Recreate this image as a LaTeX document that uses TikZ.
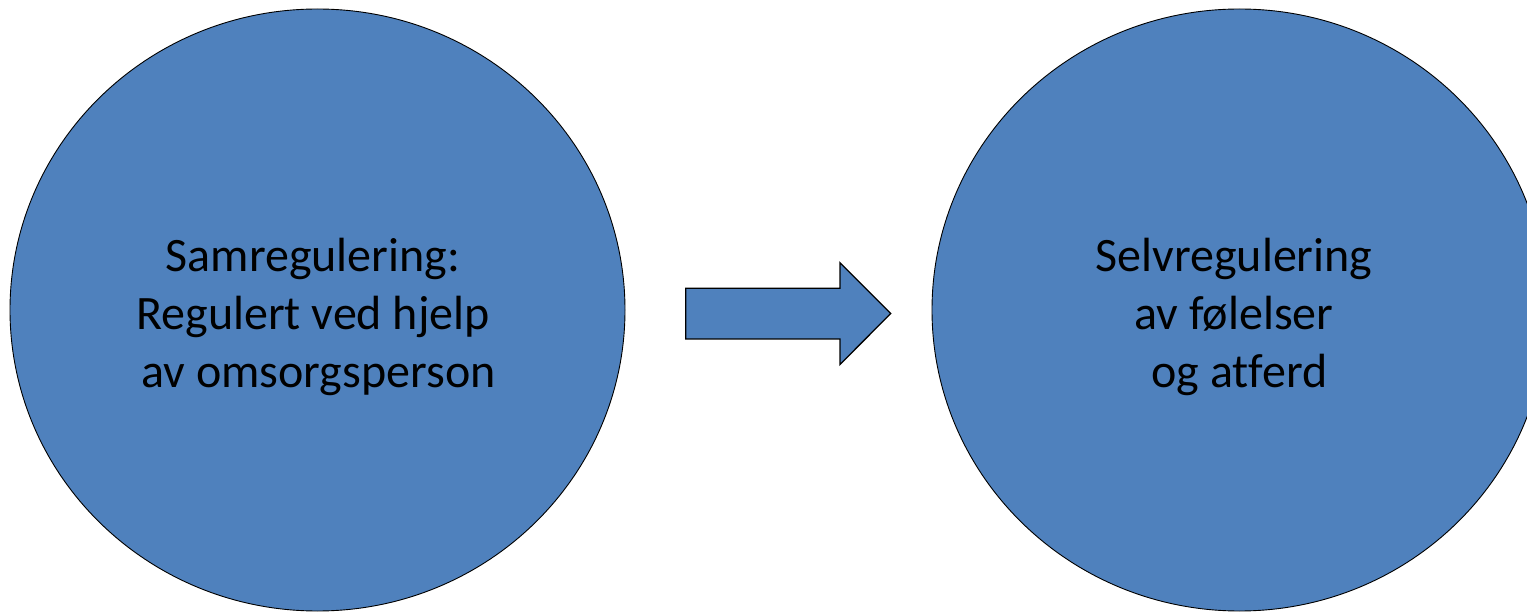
\documentclass[tikz,border=0pt]{standalone}
\usepackage{fontspec}
\setmainfont{Carlito}[Ligatures=NoCommon]
\usetikzlibrary{shapes.geometric}
\definecolor{officeblue}{HTML}{4F81BD}
\begin{document}
\begin{tikzpicture}[x=1pt,y=-1pt,
  bubble/.style={ellipse, draw=black, line width=0.9pt, fill=officeblue,
    minimum width=615pt, minimum height=602pt, inner sep=0pt},
  caption/.style={align=center, inner sep=0pt, text=black,
    font=\fontsize{48}{58}\selectfont},
  blockarrow/.style={draw=black, line width=1.3pt, fill=officeblue, line join=miter}]
\useasboundingbox (0,0) rectangle (1527,612);
\clip (0,0) rectangle (1527,612);
\fill[white] (0,0) rectangle (1527,612);
\node[bubble] (L) at (317.5,310) {};
\node[bubble] (R) at (1239.5,310) {};
\coordinate (a1) at (685.7,288.3);
\coordinate (a2) at (840,288.3);
\coordinate (a3) at (840,262.7);
\coordinate (tip) at (890.7,313.5);
\coordinate (a5) at (840,364.5);
\coordinate (a6) at (840,339);
\coordinate (a7) at (685.7,339);
\draw[blockarrow] (a1) -- (a2) -- (a3) -- (tip) -- (a5) -- (a6) -- (a7) -- cycle;
\node[caption] (Lt) at (313,317) {Samregulering:\\Regulert ved hjelp\hspace*{0.226em}\\\hspace*{0.226em}av omsorgsperson};
\node[caption] (Rt) at (1234,317) {Selvregulering\\av følelser\\\hspace*{0.226em}og atferd};
\end{tikzpicture}
\end{document}
